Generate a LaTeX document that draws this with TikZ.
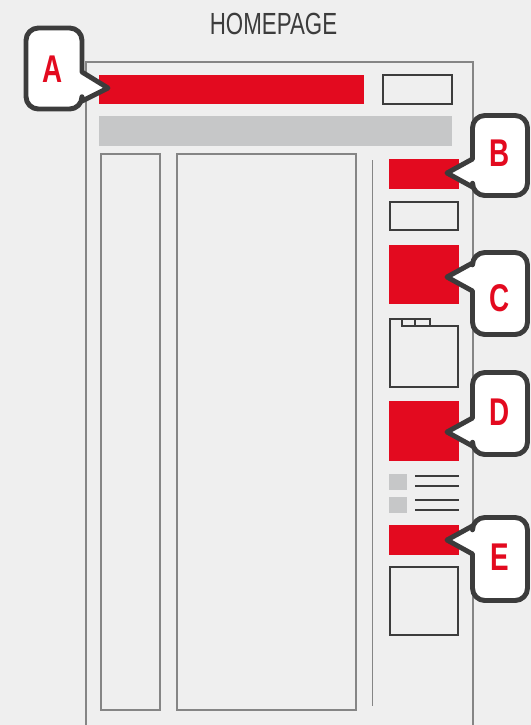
\documentclass[tikz,border=0pt]{standalone}
\usepackage{fontspec}
\newfontfamily\titlefont[FakeStretch=0.73]{Liberation Sans}
\newfontfamily\tagfont[FakeStretch=0.72]{Liberation Sans Bold}
\definecolor{pagebg}{HTML}{EFEFEF}
\definecolor{brandred}{HTML}{E30A1F}
\definecolor{barGray}{HTML}{C6C7C8}
\definecolor{inkGray}{HTML}{3C3C3C}
\definecolor{frameGray}{HTML}{858585}
\tikzset{
  redblock/.style={fill=brandred},
  greyblock/.style={fill=barGray},
  outline/.style={draw=inkGray, line width=1pt},
  thinline/.style={draw=frameGray, line width=0.6pt},
  callout/.style={draw=inkGray, fill=white, line width=2.8pt, line join=round},
  tagletter/.style={text=brandred, font=\tagfont\fontsize{22}{22}\selectfont}
}
\begin{document}
\begin{tikzpicture}[x=0.02cm,y=-0.02cm]
  \useasboundingbox[fill=pagebg] (0,0) rectangle (531,725);
  \node[text=inkGray, font=\titlefont\fontsize{17.4}{18}\selectfont] (title) at (273.5,24) {HOMEPAGE};

  % page frame and columns
  \draw[thinline] (86,725) -- (86,62) -- (473,62) -- (473,725);
  \fill[redblock] (99,75) rectangle (364,104);
  \draw[outline, line width=0.8pt] (383,75) rectangle (452,104);
  \fill[greyblock] (99,116) rectangle (452,146);
  \draw[thinline] (101,154) rectangle (160,710);
  \draw[thinline] (177,154) rectangle (356,710);
  \draw[draw=frameGray, line width=0.5pt] (372,160) -- (372,706);

  % sidebar
  \fill[redblock] (389,159) rectangle (459,189);
  \draw[outline] (390,202) rectangle (458,230);
  \fill[redblock] (389,245) rectangle (459,304);
  \draw[outline] (390,319) -- (430,319) -- (430,326) -- (458,326) -- (458,387) -- (390,387) -- cycle;
  \draw[outline] (402,319) -- (402,326) -- (430,326);
  \draw[outline] (415,319) -- (415,326);
  \fill[redblock] (389,401) rectangle (459,461);
  \fill[greyblock] (389,474) rectangle (407,490);
  \fill[greyblock] (389,497) rectangle (407,513);
  \foreach \ly in {476,486,500,510}
    \draw[outline] (415,\ly) -- (459,\ly);
  \fill[redblock] (389,525) rectangle (459,555);
  \draw[outline] (390,567) rectangle (458,635);

  % callouts
  \draw[callout] (108,88) -- (82,101) [rounded corners=7] -- (82,109) -- (26,109)
    -- (26,28) -- (82,28) [sharp corners] -- (82,72) -- cycle;
  \node[tagletter] (tag-A) at (53,69) {A};
  \foreach \top/\bot/\tip/\ty/\name in {115.5/195.5/173/153/B, 252.5/334.5/277/298/C,
      372.5/454.5/432/412/D, 517.5/600.5/540/557/E} {
    \draw[callout] (447,\tip) -- (472.5,\tip-14) [rounded corners=7] -- (472.5,\top)
      -- (527.5,\top) -- (527.5,\bot) -- (472.5,\bot) [sharp corners] -- (472.5,\tip+14) -- cycle;
    \node[tagletter] (tag-\name) at (500,\ty) {\name};
  }
\end{tikzpicture}
\end{document}
